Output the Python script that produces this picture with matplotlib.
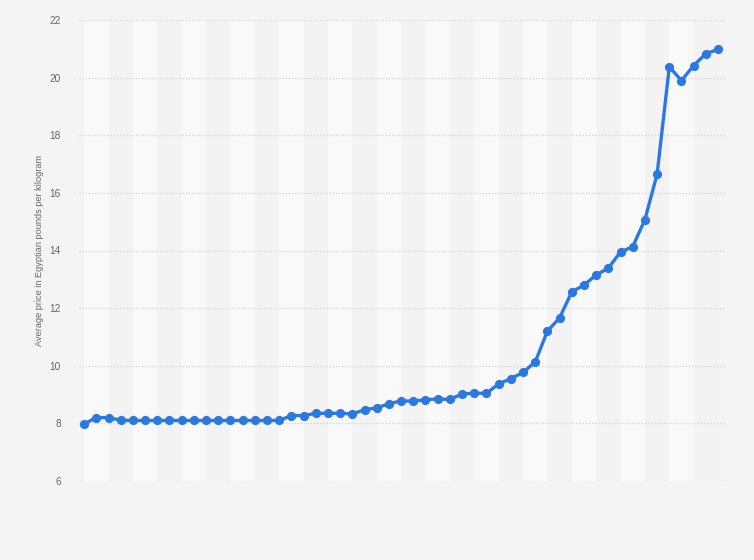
import numpy as np
import matplotlib
matplotlib.use("Agg")
from matplotlib import pyplot as plt

# average price per kg, one point per period (no x labels in the source)
prices = [7.98, 8.2, 8.2,
          8.11, 8.1, 8.1, 8.1, 8.1, 8.1, 8.1, 8.1, 8.1, 8.1, 8.1, 8.1, 8.1, 8.1,
          8.27, 8.27, 8.35, 8.35, 8.35, 8.33, 8.47, 8.54, 8.68, 8.78, 8.77,
          8.82, 8.85, 8.83, 9.02, 9.05, 9.04, 9.37, 9.55, 9.77, 10.13, 11.2,
          11.66, 12.56, 12.8, 13.15, 13.39, 13.95, 14.13, 15.07, 16.65, 20.37,
          19.9, 20.42, 20.83, 20.98]
yticks = [6, 8, 10, 12, 14, 16, 18, 20, 22]
ylabel = "Average price in Egyptian pounds per kilogram"

x = np.arange(len(prices))

plt.rcParams["font.family"] = ["Liberation Sans", "DejaVu Sans"]

fig = plt.figure(figsize=(7.54, 5.6), dpi=100, facecolor="#f4f4f4")
ax = fig.add_axes([79 / 754, 1 - 481 / 560, (725 - 79) / 754, (481 - 20) / 560])
ax.set_facecolor("#f3f3f3")

# alternating light bands
for s in range(0, len(prices) - 1, 4):
    ax.axvspan(s, s + 2, color="#f9f9f9", zorder=0, lw=0)

for t in yticks:
    ax.axhline(t, color="#d2d2d2", lw=0.9, ls=(0, (1, 1.5)), zorder=1)

ax.plot(x, prices, color="#2a78e0", lw=2.4, marker="o", ms=5.6,
        solid_joinstyle="round", zorder=3)

ax.set_xlim(-0.42, len(prices) - 1 + 0.57)
ax.set_ylim(6, 22)
ax.set_yticks(yticks)
ax.set_xticks([])
ax.tick_params(axis="y", length=0, pad=13, labelsize=7.3, labelcolor="#666666")
for sp in ax.spines.values():
    sp.set_visible(False)

fig.text(40 / 754, 1 - 250 / 560, ylabel, rotation=90, ha="center", va="center",
         fontsize=6.6, color="#666666")

fig.savefig("out.png", dpi=100, facecolor=fig.get_facecolor())
